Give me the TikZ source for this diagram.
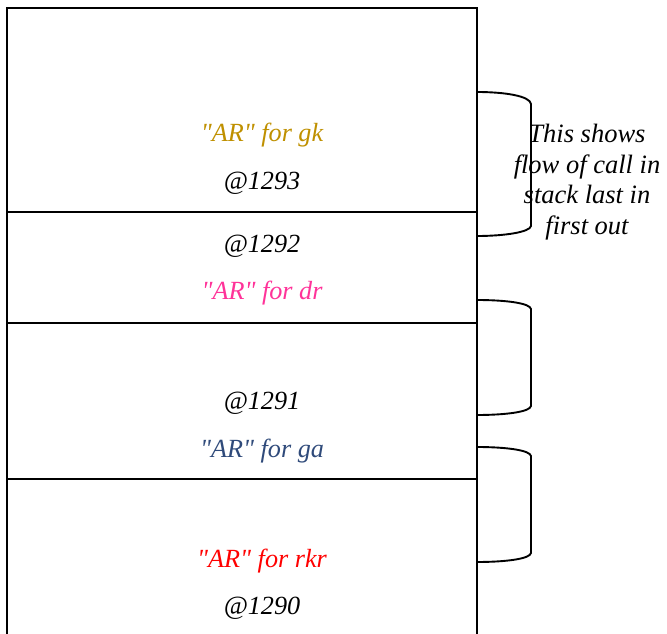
\documentclass[tikz,border=0pt]{standalone}
\usepackage{fontspec}
\setmainfont{Liberation Serif}
\newfontfamily\tnr{Liberation Serif}
\definecolor{gkcol}{HTML}{BF9000}
\definecolor{drcol}{HTML}{FF3399}
\definecolor{gacol}{HTML}{2F4A7A}
\definecolor{rkrcol}{HTML}{FF0000}
\begin{document}
\begin{tikzpicture}[x=1pt,y=-1pt,
  lbl/.style={font=\tnr\fontsize{26.2}{30}\selectfont\itshape, inner sep=0pt, anchor=center},
  boxline/.style={line width=2pt},
  bracket/.style={line width=1.9pt}]
\useasboundingbox (0,0) rectangle (667,634);
% stack box
\draw[boxline] (7,635) -- (7,8) -- (477,8) -- (477,635);
\draw[boxline] (7,212) -- (477,212);
\draw[boxline] (7,323) -- (477,323);
\draw[boxline] (7,479) -- (477,479);
% labels
\node[lbl, text=gkcol] (gk) at (262,135) {"AR" for gk};
\node[lbl] (a1293) at (262,183) {@1293};
\node[lbl] (a1292) at (262,246) {@1292};
\node[lbl, text=drcol] (dr) at (262,293) {"AR" for dr};
\node[lbl] (a1291) at (262,403) {@1291};
\node[lbl, text=gacol] (ga) at (262,451) {"AR" for ga};
\node[lbl, text=rkrcol] (rkr) at (262,561) {"AR" for rkr};
\node[lbl] (a1290) at (262,608) {@1290};
% brackets
\draw[bracket] (477,92) .. controls (505,92) and (530,96) .. (531,104) -- (531,226) .. controls (530,232) and (505,236) .. (477,236);
\draw[bracket] (477,300) .. controls (505,300) and (530,303) .. (531,309) -- (531,406) .. controls (530,412) and (505,415) .. (477,415);
\draw[bracket] (477,447) .. controls (505,447) and (530,450) .. (531,456) -- (531,553) .. controls (530,559) and (505,562) .. (477,562);
% note
\node[lbl, align=center, font=\tnr\fontsize{26.5}{30.7}\selectfont\itshape] (note) at (587,182) {This shows\\flow of call in\\stack last in\\first out};
\end{tikzpicture}
\end{document}
